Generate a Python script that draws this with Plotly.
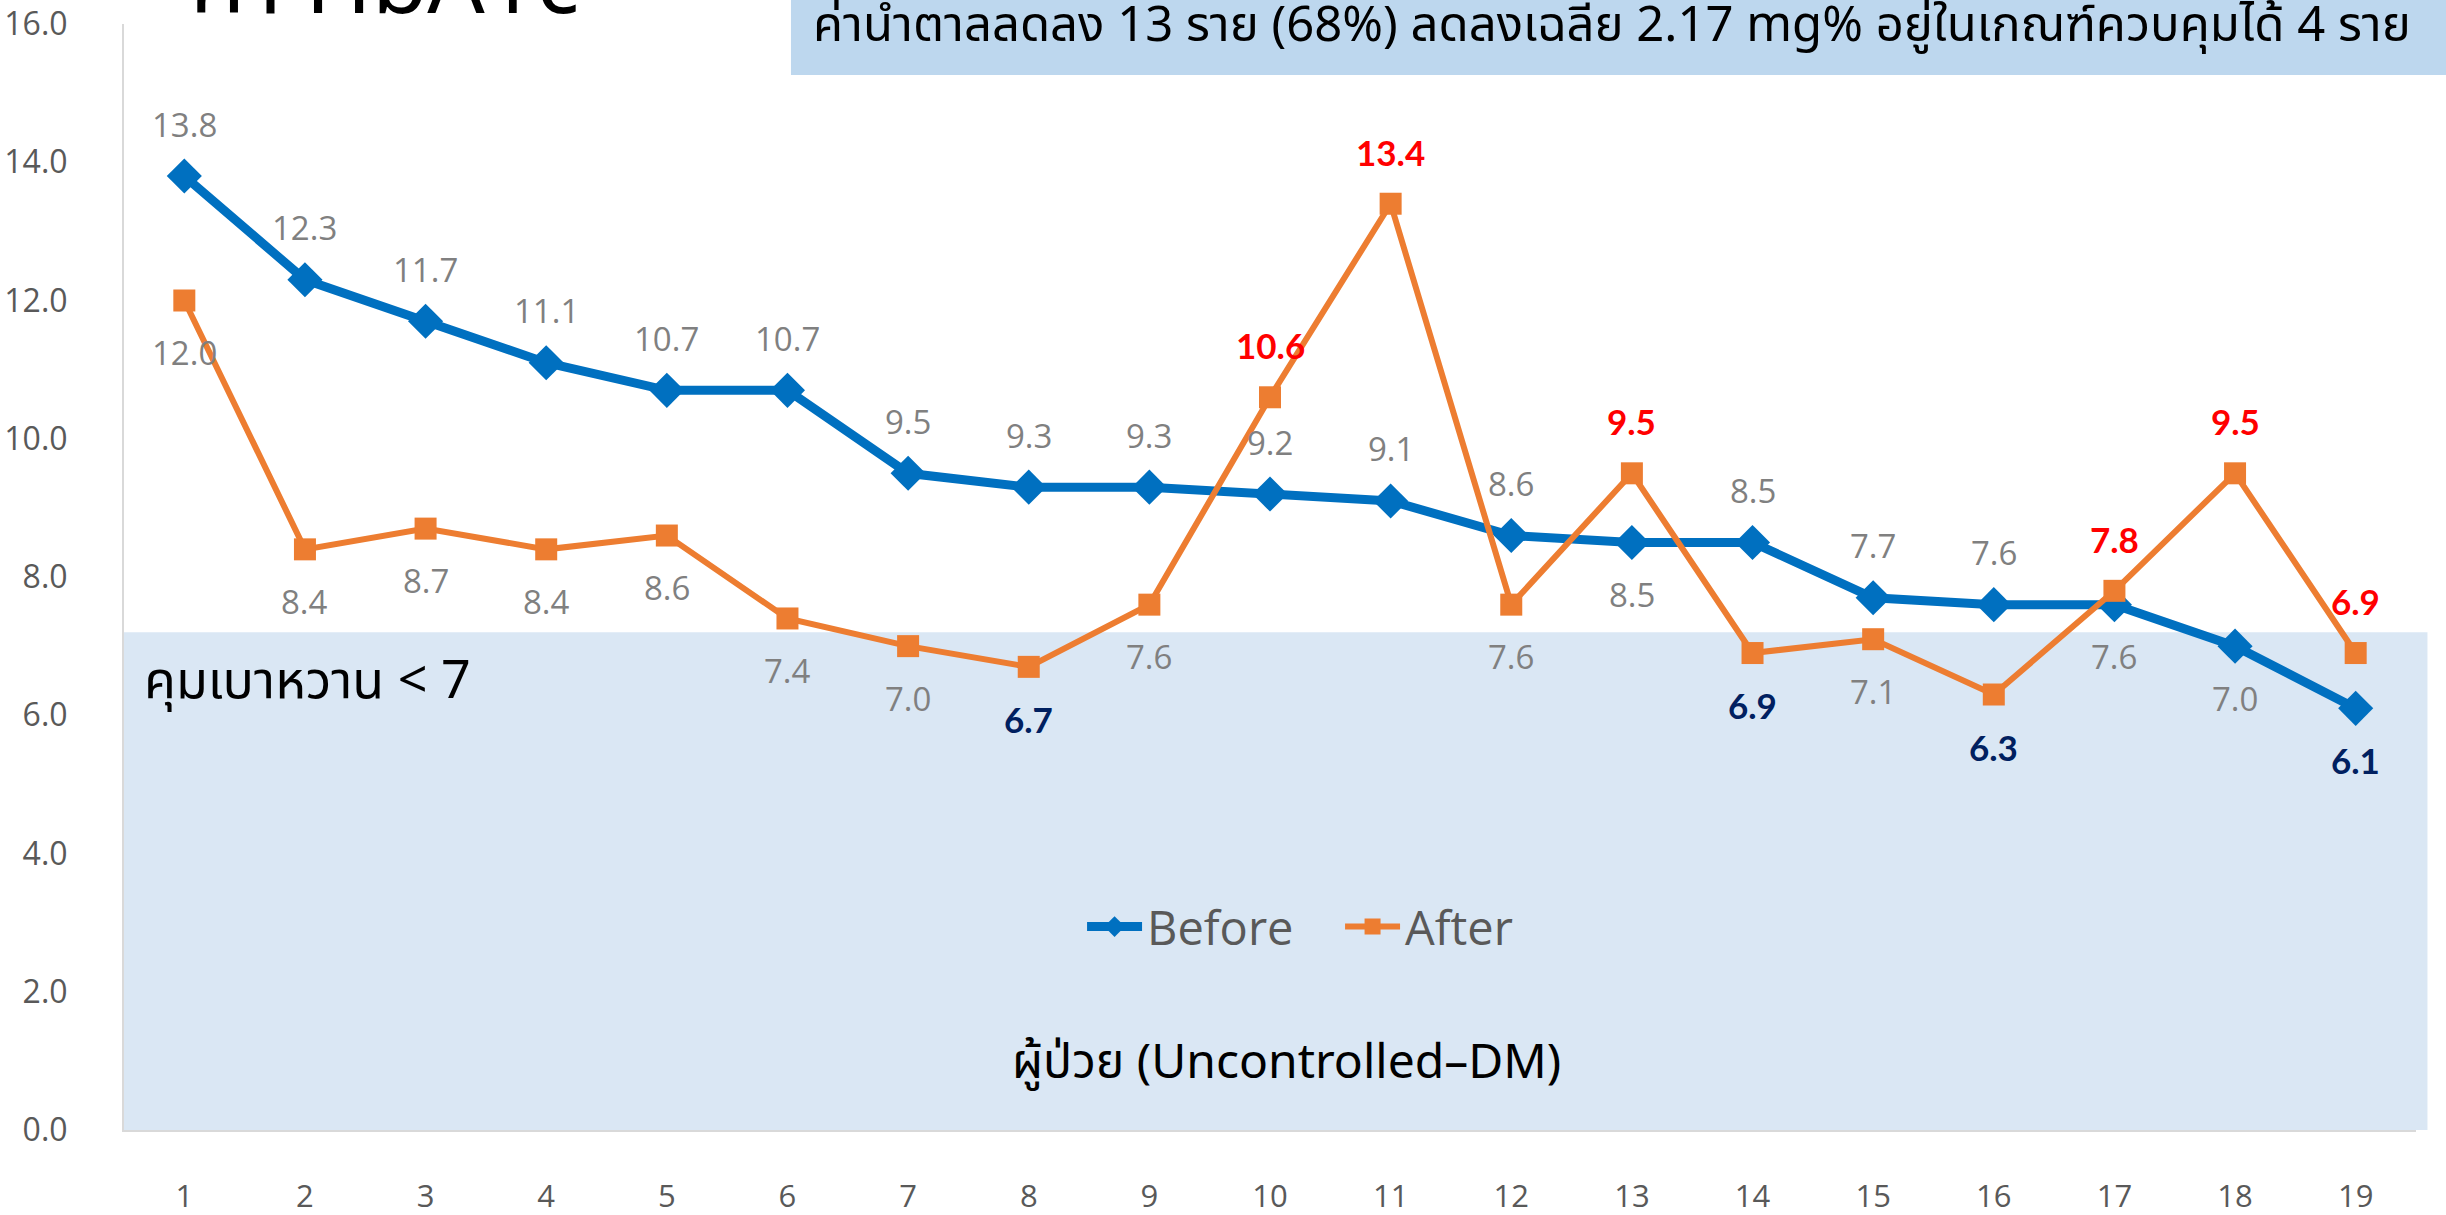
import plotly.graph_objects as go

# ---------------- data ----------------
patients = list(range(1, 20))
before = [13.8, 12.3, 11.7, 11.1, 10.7, 10.7, 9.5, 9.3, 9.3, 9.2, 9.1, 8.6, 8.5, 8.5, 7.7, 7.6, 7.6, 7.0, 6.1]
after = [12.0, 8.4, 8.7, 8.4, 8.6, 7.4, 7.0, 6.7, 7.6, 10.6, 13.4, 7.6, 9.5, 6.9, 7.1, 6.3, 7.8, 9.5, 6.9]
y_ticks = [0, 2, 4, 6, 8, 10, 12, 14, 16]
control_zone_top = 7.2
control_goal = 7

title_text = "ค่า HbA1c"
banner_text = "ค่าน้ำตาลลดลง 13 ราย (68%) ลดลงเฉลี่ย 2.17 mg% อยู่ในเกณฑ์ควบคุมได้ 4 ราย"
zone_text = "คุมเบาหวาน < 7"
xaxis_text = "ผู้ป่วย (Uncontrolled–DM)"

# label placement (style): above / below the point
before_side = ["above"] * 12 + ["below"] + ["above"] * 3 + ["below"] * 3
after_side = ["below"] * 9 + ["above"] * 2 + ["below"] + ["above"] + ["below"] * 3 + ["above"] * 3

# ---------------- styles ----------------
BLUE = "#0070C0"
ORANGE = "#ED7D31"
GREY_LBL = "#808080"
RED = "#FF0000"
NAVY = "#002060"
TICK = "#595959"
THAI = "Noto Sans Thai, Noto Sans, Open Sans, sans-serif"
LBL_FONT = "Open Sans, Liberation Sans, sans-serif"

fig = go.Figure()

fig.add_trace(go.Scatter(
    x=patients, y=before, name="Before", mode="lines+markers",
    line=dict(color=BLUE, width=9),
    marker=dict(symbol="diamond", size=27, color=BLUE),
))
fig.add_trace(go.Scatter(
    x=patients, y=after, name="After", mode="lines+markers",
    line=dict(color=ORANGE, width=6),
    marker=dict(symbol="square", size=22, color=ORANGE),
))

annotations = []


def add_labels(values, sides, other=None):
    for i, (p, v, s) in enumerate(zip(patients, values, sides)):
        txt = f"{v:.1f}"
        if other is not None and v > other[i]:
            font = dict(family="Lato, sans-serif", size=35, color=RED, weight="bold")
        elif v < control_goal:
            font = dict(family="Lato, sans-serif", size=35, color=NAVY, weight="bold")
        else:
            font = dict(family=LBL_FONT, size=33, color=GREY_LBL)
        annotations.append(dict(
            x=p, y=v, xref="x", yref="y", text=txt, showarrow=False,
            font=font, yanchor="middle", xanchor="center",
            yshift=52 if s == "above" else -52,
        ))


add_labels(before, before_side)
add_labels(after, after_side, other=before)

# text annotations
annotations.append(dict(
    x=0.008, y=0.405, xref="paper", yref="paper", text=zone_text, showarrow=False,
    xanchor="left", yanchor="middle", font=dict(family=THAI, size=52, color="#000000"),
))
annotations.append(dict(
    x=0.507, y=0.06, xref="paper", yref="paper", text=xaxis_text, showarrow=False,
    xanchor="center", yanchor="middle", font=dict(family=THAI, size=48, color="#000000"),
))
annotations.append(dict(
    x=0.028, y=0.971, xref="paper", yref="paper", text=title_text, showarrow=False,
    xanchor="left", yanchor="bottom", font=dict(family=THAI, size=90, color="#000000"),
))
annotations.append(dict(
    x=0.2997, y=0.963, xref="paper", yref="paper", text=banner_text, showarrow=False,
    xanchor="left", yanchor="bottom", font=dict(family=THAI, size=49, color="#000000"),
))

shapes = [
    # control zone
    dict(type="rect", xref="paper", yref="y", x0=0.0, x1=1.005, y0=0, y1=control_zone_top,
         fillcolor="#DAE7F4", line=dict(width=0), layer="below"),
    # banner
    dict(type="rect", xref="paper", yref="paper", x0=0.291, x1=1.02, y0=0.954, y1=1.05,
         fillcolor="#BDD7EE", line=dict(width=0), layer="below"),
]

fig.update_layout(
    width=2446, height=1215,
    margin=dict(l=124, r=30, t=24, b=85, autoexpand=False),
    paper_bgcolor="white", plot_bgcolor="white",
    showlegend=True,
    legend=dict(orientation="h", x=0.418, y=0.1835, xanchor="left", yanchor="middle",
                bgcolor="rgba(0,0,0,0)", font=dict(family=LBL_FONT, size=47, color=TICK),
                itemwidth=55, entrywidth=188, entrywidthmode="pixels"),
    annotations=annotations,
    shapes=shapes,
)
fig.update_xaxes(
    range=[0.5, 19.5], tickmode="array", tickvals=patients,
    ticktext=[str(p) for p in patients], automargin=False,
    showgrid=False, zeroline=False, showline=True, linecolor="#D9D9D9", linewidth=2,
    tickfont=dict(family=LBL_FONT, size=31, color=TICK), ticks="",
    ticklabelstandoff=38,
)
fig.update_yaxes(
    range=[0, 16], tickmode="array", tickvals=y_ticks,
    ticktext=[f"{t:.1f}" for t in y_ticks], automargin=False,
    showgrid=False, zeroline=False, showline=True, linecolor="#D9D9D9", linewidth=2,
    tickfont=dict(family=LBL_FONT, size=32, color=TICK), ticks="",
    ticklabelstandoff=48,
)

fig.write_html("out.html", config={"displayModeBar": False},
               post_script="document.body.style.margin='0';document.body.style.overflow='hidden';")
